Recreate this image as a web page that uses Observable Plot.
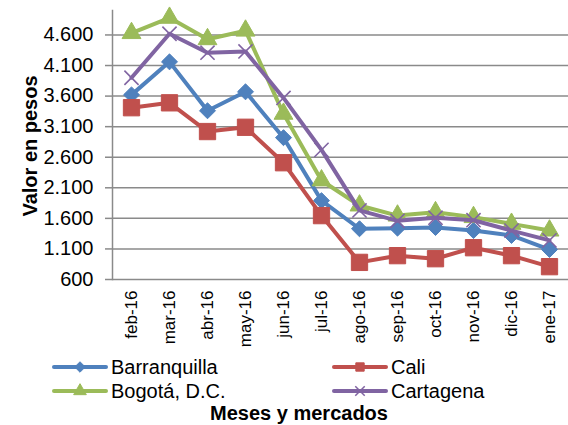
<!DOCTYPE html>
<html>
<head>
<meta charset="utf-8">
<script src="https://cdn.jsdelivr.net/npm/d3@7"></script>
<script src="https://cdn.jsdelivr.net/npm/@observablehq/plot@0.6"></script>
<style>
  body { margin: 0; background: #fff; font-family: "Liberation Sans", Arial, sans-serif; }
  #wrap { position: relative; width: 568px; height: 425px; overflow: hidden; background: #fff; }
  #chart { position: absolute; left: 0; top: 0; }
  .ytitle { position: absolute; left: 30px; top: 146px; transform: translate(-50%, -50%) rotate(-90deg); font-family: "Liberation Sans", Arial, sans-serif; font-weight: bold; font-size: 20px; white-space: nowrap; color: #000; }
  .xtitle { position: absolute; left: 299px; top: 413px; transform: translate(-50%, -50%); font-family: "Liberation Sans", Arial, sans-serif; font-weight: bold; font-size: 20px; line-height: 22px; white-space: nowrap; color: #000; }
  .leg { position: absolute; display: flex; align-items: center; font-size: 20px; color: #000; white-space: nowrap; }
  .leg svg { margin-right: 2px; }
</style>
</head>
<body>
<div id="wrap">
  <div id="chart"></div>
  <div class="ytitle">Valor en pesos</div>
  <div id="legend"></div>
  <div class="xtitle">Meses y mercados</div>
</div>
<script>
const months = ["feb-16","mar-16","abr-16","may-16","jun-16","jul-16","ago-16","sep-16","oct-16","nov-16","dic-16","ene-17"];
const barranquilla = [3620, 4160, 3360, 3670, 2920, 1890, 1430, 1440, 1450, 1400, 1320, 1090];
const cali         = [3410, 3490, 3020, 3090, 2510, 1645, 880, 990, 940, 1120, 990, 810];
const bogota       = [4630, 4880, 4530, 4670, 3310, 2220, 1810, 1645, 1700, 1620, 1510, 1400];
const cartagena    = [3900, 4620, 4310, 4330, 3570, 2720, 1730, 1560, 1610, 1570, 1400, 1240];
const yTicks = [600, 1100, 1600, 2100, 2600, 3100, 3600, 4100, 4600];

const seriesDefs = [
  {name: "Barranquilla", values: barranquilla, color: "#4F81BD", symbol: "diamond2", r: 7.2, fill: true},
  {name: "Cali", values: cali, color: "#C0504D", symbol: "square", r: 9.2, fill: true},
  {name: "Bogotá, D.C.", values: bogota, color: "#9BBB59", symbol: "triangle", r: 7, fill: true},
  {name: "Cartagena", values: cartagena, color: "#8064A2", symbol: "times", r: 6.5, fill: false}
];

const fmt = d => d3.format(",")(d).replace(/,/g, ".");

const marks = [
  Plot.ruleY(yTicks, {stroke: "#8a8a8a", strokeWidth: 1.5}),
  Plot.axisY({ticks: yTicks, tickFormat: fmt, tickSize: 7, tickPadding: 12, fontSize: 20, label: null, stroke: "#8a8a8a", strokeWidth: 1.5, color: "#000"}),
  Plot.axisX({tickSize: 0, tickPadding: 11, tickRotate: -90, fontSize: 17, label: null}),
  Plot.frame({anchor: "left", stroke: "#8a8a8a", strokeWidth: 1.5})
];

for (const s of seriesDefs) {
  const data = months.map((m, i) => ({month: m, value: s.values[i]}));
  marks.push(Plot.line(data, {x: "month", y: "value", stroke: s.color, strokeWidth: 4, strokeLinejoin: "round"}));
  if (s.fill) {
    marks.push(Plot.dot(data, {x: "month", y: "value", symbol: () => s.symbol, r: s.r, fill: s.color, stroke: s.color, strokeWidth: 1}));
  } else {
    marks.push(Plot.dot(data, {x: "month", y: "value", symbol: () => s.symbol, r: s.r, stroke: s.color, strokeWidth: 1.6}));
  }
}

const chart = Plot.plot({
  width: 568,
  height: 350,
  marginTop: 10,
  marginBottom: 71,
  marginLeft: 112,
  marginRight: 0,
  style: {fontFamily: "'Liberation Sans', Arial, sans-serif", color: "#000", background: "#fff", overflow: "visible"},
  x: {type: "point", domain: months, padding: 0.5},
  y: {domain: [600, 5000]},
  symbol: {type: "identity"},
  marks
});
document.getElementById("chart").appendChild(chart);

// legend
const legendPos = [
  {left: 52, top: 367}, {left: 332, top: 367},
  {left: 52, top: 391}, {left: 332, top: 391}
];
const legend = document.getElementById("legend");
seriesDefs.forEach((s, k) => {
  const div = document.createElement("div");
  div.className = "leg";
  div.style.left = legendPos[k].left + "px";
  div.style.top = (legendPos[k].top - 12) + "px";
  div.style.height = "24px";
  const sw = d3.create("svg").attr("width", 57).attr("height", 16);
  sw.append("line").attr("x1", 2).attr("x2", 54).attr("y1", 8).attr("y2", 8)
    .attr("stroke", s.color).attr("stroke-width", 4).attr("stroke-linecap", "round");
  const sym = {diamond2: d3.symbolDiamond2, square: d3.symbolSquare, triangle: d3.symbolTriangle, times: d3.symbolTimes}[s.symbol];
  sw.append("path").attr("transform", "translate(28,8)")
    .attr("d", d3.symbol(sym, s.fill ? 70 : 60)())
    .attr("fill", s.fill ? s.color : "none").attr("stroke", s.color).attr("stroke-width", s.fill ? 1 : 1.5);
  div.appendChild(sw.node());
  const t = document.createElement("span");
  t.textContent = s.name;
  div.appendChild(t);
  legend.appendChild(div);
});
</script>
</body>
</html>
